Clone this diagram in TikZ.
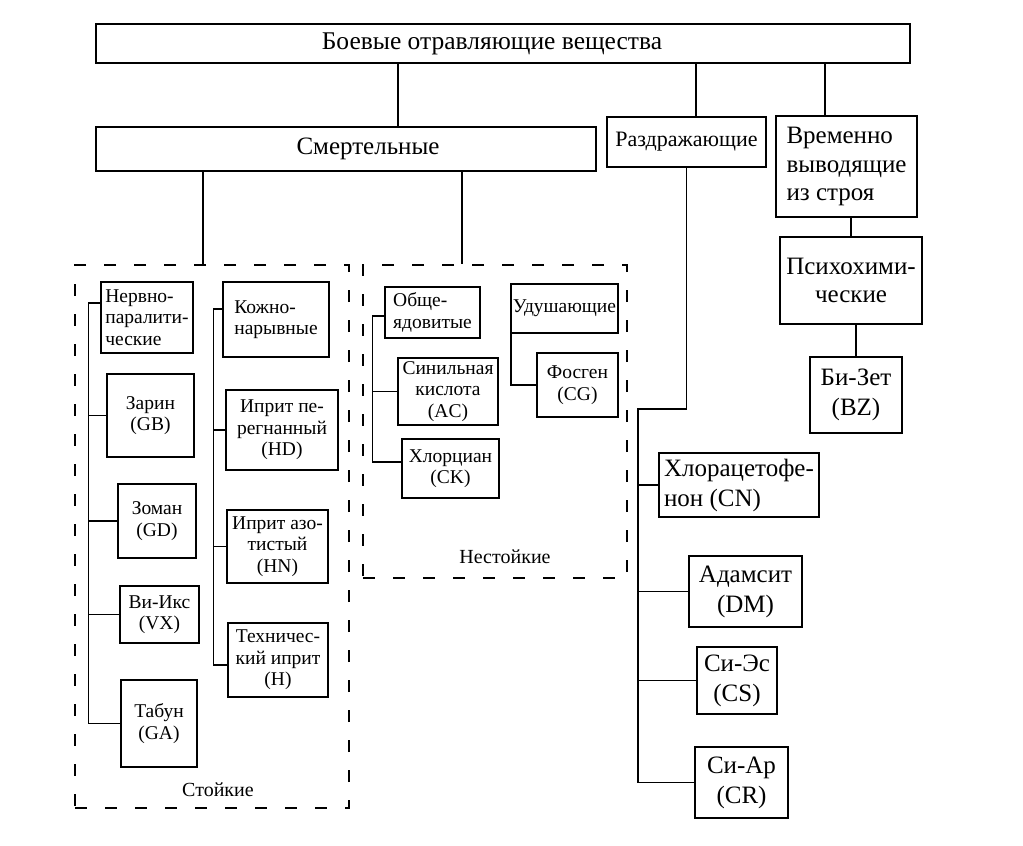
\documentclass[tikz,border=0pt]{standalone}
\usepackage{fontspec}
\setmainfont{Liberation Serif}
\usepackage{tikz}
\usetikzlibrary{shapes,arrows}
\tikzstyle{line} = [draw, line width=1.4pt]
\tikzstyle{box} = [rectangle, draw, line width=1.6pt, inner sep=2pt, align=center, font=\fontsize{19.5}{21.5}\selectfont]
\tikzstyle{bigbox} = [rectangle, draw, line width=1.6pt, inner sep=2pt, align=center, font=\fontsize{25}{30}\selectfont]
\tikzstyle{group} = [rectangle, draw, line width=2.5pt, dash pattern=on 12pt off 18pt]
\tikzstyle{grouplabel} = [font=\fontsize{20}{23}\selectfont]

\begin{document}
\begin{tikzpicture}
	\useasboundingbox (0,0) rectangle (1023pt,-846pt);
	\node [bigbox, minimum width=814pt, minimum height=39pt, font=\fontsize{25.5}{29}\selectfont] (bov) at (503pt,-43.5pt) {Боевые отравляющие вещества\hspace*{22pt}};
	\node [bigbox, below of=bov, node distance=105.5pt, xshift=-157pt, minimum width=500pt, minimum height=44pt] (smert) {\hspace*{44pt}Смертельные};
	\node [bigbox, below of=bov, node distance=98.5pt, xshift=183.5pt, minimum width=159pt, minimum height=50pt, font=\fontsize{22}{29}\selectfont] (razd) {Раздражающие};
	\node [bigbox, right of=razd, node distance=160pt, yshift=-24.5pt, minimum width=141pt, minimum height=101pt, align=left, font=\fontsize{25}{28.5}\selectfont] (vrem) {Временно\\выводящие\\из строя};
	\node [bigbox, below of=vrem, node distance=114pt, xshift=4.5pt, minimum width=142pt, minimum height=87pt, font=\fontsize{25}{28}\selectfont] (psych) {Психохими-\\ческие};
	\node [bigbox, below of=psych, node distance=114.5pt, xshift=5pt, minimum width=92pt, minimum height=76pt] (bz) {Би-Зет\\(BZ)};
	
	\node [bigbox, below of=razd, node distance=343pt, xshift=52.5pt, minimum width=160pt, minimum height=64pt, align=left] (cn) {Хлорацетофе-\\нон (CN)};
	\node [bigbox, below of=cn, node distance=106.5pt, xshift=6.5pt, minimum width=113pt, minimum height=71pt] (dm) {Адамсит\\(DM)};
	\node [bigbox, below of=dm, node distance=89pt, xshift=-8.5pt, minimum width=80pt, minimum height=67pt] (cs) {Си-Эс\\(CS)};
	\node [bigbox, below of=cs, node distance=102pt, xshift=4.5pt, minimum width=93pt, minimum height=71pt] (cr) {Си-Ар\\(CR)};
	
	\node [group, below of=smert, node distance=387.5pt, xshift=-134pt, minimum width=274pt, minimum height=543pt] (stoik) {};
	\node [group, below of=smert, node distance=272.5pt, xshift=149pt, minimum width=264pt, minimum height=313pt] (nestoik) {};
	\node [grouplabel] (stoiklbl) at ([xshift=6pt,yshift=20pt]stoik.south) {Стойкие};
	\node [grouplabel] (nestoiklbl) at ([xshift=10pt,yshift=23pt]nestoik.south) {Нестойкие};
	
	\node [box, below of=smert, node distance=168.5pt, xshift=-199pt, minimum width=92pt, minimum height=71pt, align=left] (nerv) {Нервно-\\паралити-\\ческие};
	\node [box, below of=nerv, node distance=98pt, xshift=3.5pt, minimum width=87pt, minimum height=83pt] (zarin) {Зарин\\(GB)};
	\node [box, below of=zarin, node distance=105.5pt, xshift=6.5pt, minimum width=78pt, minimum height=74pt] (zoman) {Зоман\\(GD)};
	\node [box, below of=zoman, node distance=93.5pt, xshift=2.5pt, minimum width=79pt, minimum height=57pt] (viks) {Ви-Икс\\(VX)};
	\node [box, below of=viks, node distance=109pt, xshift=-0.5pt, minimum width=76pt, minimum height=87pt] (tabun) {Табун\\(GA)};
	
	\node [box, right of=nerv, node distance=129pt, yshift=-2pt, minimum width=106pt, minimum height=75pt, align=left] (kozh) {Кожно-\\нарывные};
	\node [box, below of=kozh, node distance=110.5pt, xshift=6pt, minimum width=112pt, minimum height=80pt] (iprhd) {Иприт пе-\\регнанный\\(HD)};
	\node [box, below of=iprhd, node distance=116.5pt, xshift=-4.5pt, minimum width=101pt, minimum height=73pt] (iprhn) {Иприт азо-\\тистый\\(HN)};
	\node [box, below of=iprhn, node distance=113.5pt, xshift=0.5pt, minimum width=100pt, minimum height=74pt] (tehh) {Техничес-\\кий иприт\\(H)};
	
	\node [box, right of=kozh, node distance=156.5pt, yshift=7pt, minimum width=95pt, minimum height=51pt, align=left] (obsh) {Обще-\\ядовитые};
	\node [box, below of=obsh, node distance=79pt, xshift=15.5pt, minimum width=100pt, minimum height=67pt] (sinil) {Синильная\\кислота\\(AC)};
	\node [box, below of=sinil, node distance=77pt, xshift=2.5pt, minimum width=97pt, minimum height=59pt] (hlorc) {Хлорциан\\(CK)};
	\node [box, right of=obsh, node distance=132pt, yshift=4pt, minimum width=107pt, minimum height=49pt] (udush) {Удушающие};
	\node [box, below of=udush, node distance=76.5pt, xshift=13pt, minimum width=81pt, minimum height=64pt] (fosgen) {Фосген\\(CG)};
	
	% top level
	\path [line] ([xshift=52pt]smert.north) -- ([xshift=52pt]smert.north |- bov.south);
	\path [line] ([xshift=9.5pt]razd.north) -- ([xshift=9.5pt]razd.north |- bov.south);
	\path [line] ([xshift=-21.5pt]vrem.north) -- ([xshift=-21.5pt]vrem.north |- bov.south);
	\path [line] ([xshift=-9pt]stoik.north) -- ([xshift=-9pt]stoik.north |- smert.south);
	\path [line] ([xshift=-33pt]nestoik.north) -- ([xshift=-33pt]nestoik.north |- smert.south);
	\path [line] (psych.north) -- (psych.north |- vrem.south);
	\path [line] (bz.north) -- (bz.north |- psych.south);
	
	% irritants
	\coordinate [below of=razd, node distance=267pt, xshift=-48.5pt] (rjog);
	\path [line] (razd.south) |- (rjog) |- (cr.west);
	\path [line] (rjog |- cn.west) -- (cn.west);
	\path [line] (rjog |- dm.west) -- (dm.west);
	\path [line] (rjog |- cs.west) -- (cs.west);
	
	% persistent
	\path [line] ([yshift=14.5pt]nerv.west) -- ++(-12pt,0) coordinate (ltop) |- (tabun.west);
	\path [line] (ltop |- zarin.west) -- (zarin.west);
	\path [line] (ltop |- zoman.west) -- (zoman.west);
	\path [line] (ltop |- viks.west) -- (viks.west);
	\path [line] ([yshift=10.5pt]kozh.west) -- ++(-9pt,0) coordinate (rtop) |- ([yshift=-5pt]tehh.west);
	\path [line] (rtop |- iprhd.west) -- (iprhd.west);
	\path [line] (rtop |- iprhn.west) -- (iprhn.west);
	
	% non-persistent
	\path [line] ([yshift=-3.5pt]obsh.west) -- ++(-12pt,0) coordinate (mtop) |- ([yshift=6.5pt]hlorc.west);
	\path [line] (mtop |- sinil.west) -- (sinil.west);
	\path [line] ([xshift=1pt]udush.south west) |- (fosgen.west);
\end{tikzpicture}
\end{document}
